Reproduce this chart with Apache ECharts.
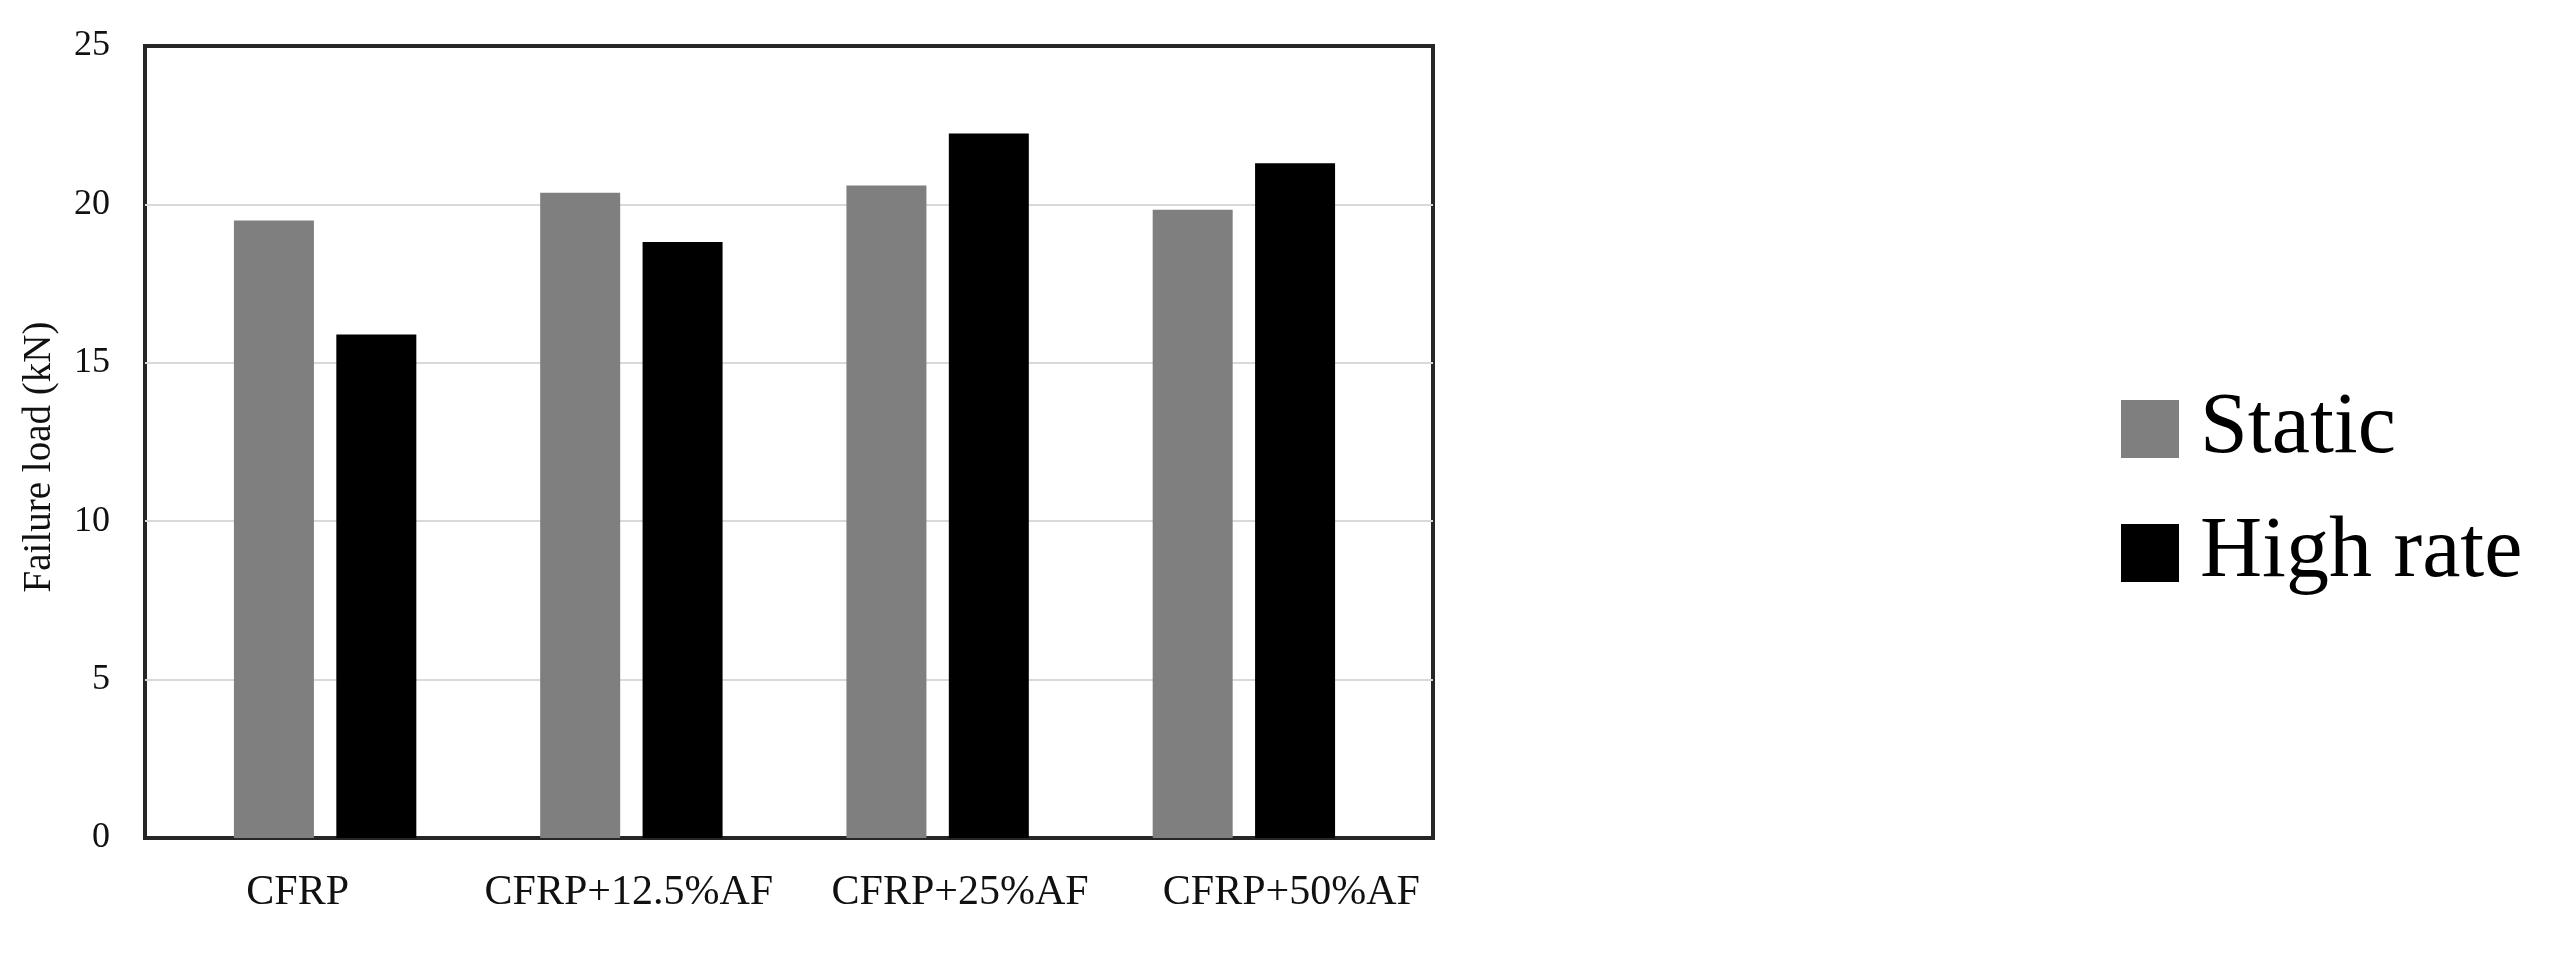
<!DOCTYPE html>
<html>
<head>
<meta charset="utf-8">
<script src="https://cdn.jsdelivr.net/npm/echarts@6/dist/echarts.min.js"></script>
<style>
  html, body { margin: 0; padding: 0; background: #fff; }
  #chart { width: 2555px; height: 958px; }
</style>
</head>
<body>
<div id="chart"></div>
<script>
const categories = ['CFRP', 'CFRP+12.5%AF', 'CFRP+25%AF', 'CFRP+50%AF']
const staticLoad = [19.49, 20.37, 20.6, 19.83]
const highRateLoad = [15.89, 18.81, 22.24, 21.3]
const yTicks = [0, 5, 10, 15, 20, 25]

const serif = "'Times New Roman', 'Liberation Serif', serif"
const plotTop = 46
const plotBottom = 120

const chart = echarts.init(document.getElementById('chart'))

chart.setOption({
  animation: false,
  backgroundColor: '#fff',
  legend: {
    orient: 'vertical',
    left: 2116,
    top: 381,
    icon: 'rect',
    itemWidth: 58,
    itemHeight: 58,
    itemGap: 38,
    textStyle: { fontFamily: serif, fontSize: 86, color: '#000', lineHeight: 86, padding: [0, 0, 0, 16] },
    data: ['Static', 'High rate']
  },
  grid: [
    // outer frame + gridlines
    { left: 145, right: 2555 - 1433, top: plotTop, bottom: plotBottom, show: true, borderColor: '#262626', borderWidth: 4 },
    // bars
    { left: 172, right: 2555 - 1397, top: plotTop, bottom: plotBottom },
    // category labels
    { left: 132, right: 2555 - 1457, top: plotTop, bottom: plotBottom }
  ],
  xAxis: [
    { gridIndex: 0, type: 'category', data: categories, show: false },
    { gridIndex: 1, type: 'category', data: categories, show: false },
    {
      gridIndex: 2, type: 'category', data: categories,
      axisLine: { show: false }, axisTick: { show: false },
      axisLabel: { margin: 34, fontFamily: serif, fontSize: 42, color: '#111', interval: 0 }
    }
  ],
  yAxis: [
    {
      gridIndex: 0, type: 'value', min: yTicks[0], max: yTicks[yTicks.length - 1], interval: 5,
      name: 'Failure load (kN)', nameLocation: 'middle', nameGap: 86, nameRotate: 90,
      nameTextStyle: { fontFamily: serif, fontSize: 39, color: '#111', padding: [0, 30, 0, 0] },
      axisLine: { show: false }, axisTick: { show: false },
      axisLabel: { margin: 35, fontFamily: serif, fontSize: 36, color: '#111' },
      splitLine: { showMinLine: false, showMaxLine: false, lineStyle: { color: '#d9d9d9', width: 2 } }
    },
    { gridIndex: 1, type: 'value', min: 0, max: 25, show: false, splitLine: { show: false } },
    { gridIndex: 2, type: 'value', min: 0, max: 25, show: false, splitLine: { show: false } }
  ],
  series: [
    {
      name: 'Static', type: 'bar', xAxisIndex: 1, yAxisIndex: 1,
      data: staticLoad, barWidth: 80, barGap: '28%',
      itemStyle: { color: '#7f7f7f' }
    },
    {
      name: 'High rate', type: 'bar', xAxisIndex: 1, yAxisIndex: 1,
      data: highRateLoad, barWidth: 80, barGap: '28%',
      itemStyle: { color: '#000000' }
    }
  ]
})
</script>
</body>
</html>
